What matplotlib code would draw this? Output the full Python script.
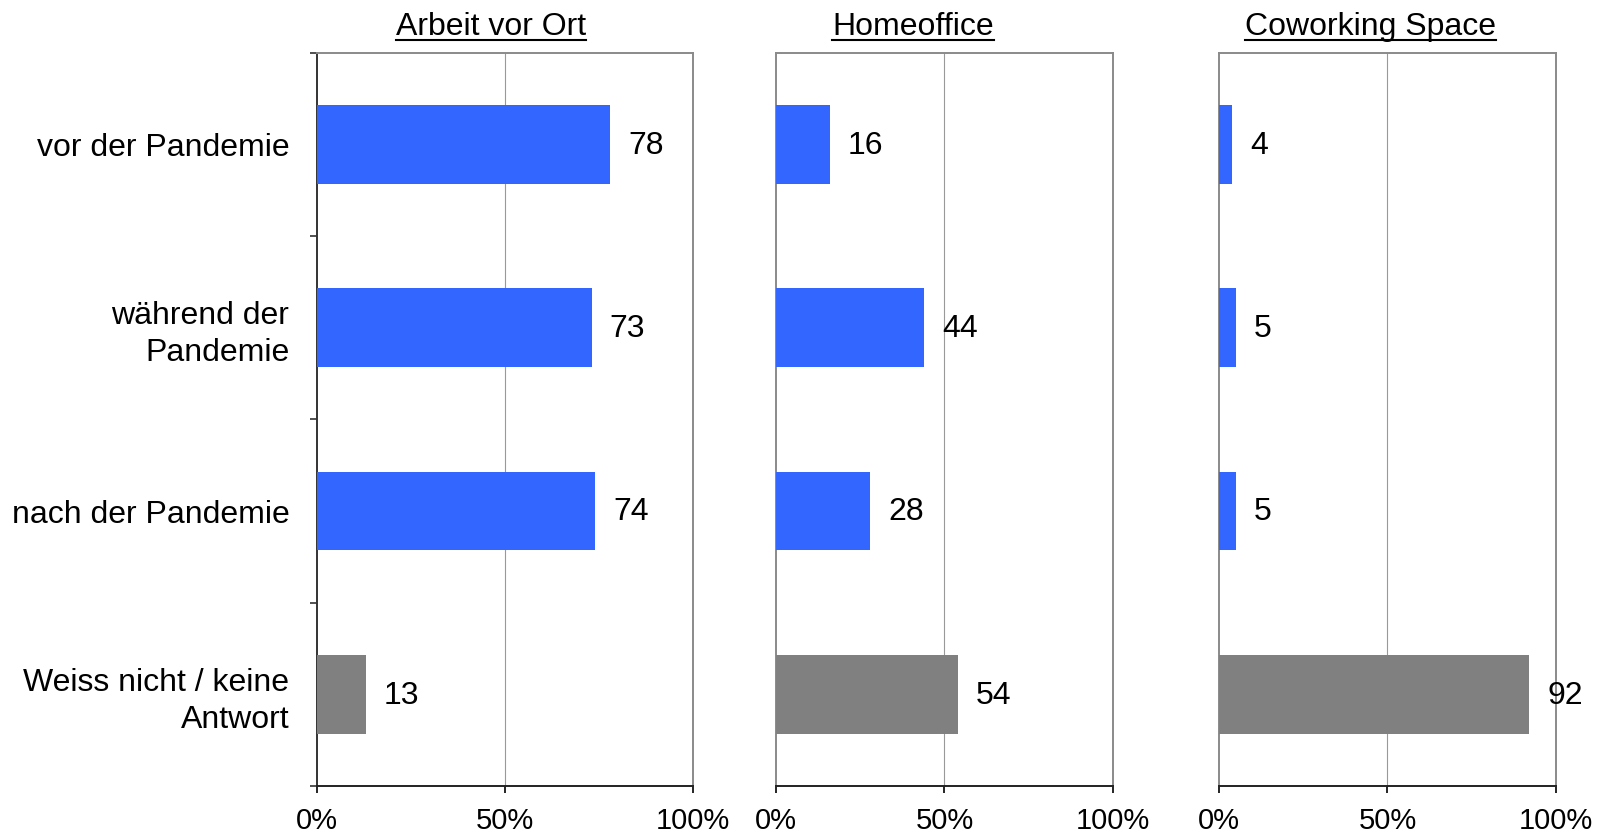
import matplotlib
matplotlib.use('Agg')
import matplotlib.pyplot as plt
import matplotlib.transforms as mtransforms
from matplotlib.lines import Line2D

plt.rcParams['font.family'] = ['Liberation Sans', 'DejaVu Sans']

# data
categories = ['vor der Pandemie', 'während der\nPandemie', 'nach der Pandemie',
              'Weiss nicht / keine\nAntwort']
panels = ['Arbeit vor Ort', 'Homeoffice', 'Coworking Space']
arbeit_vor_ort = [78, 73, 74, 13]
homeoffice = [16, 44, 28, 54]
coworking = [4, 5, 5, 92]
xticks = [0, 50, 100]
xtick_labels = ['0%', '50%', '100%']

blue = '#3366FF'
grey = '#808080'
bar_colors = [blue, blue, blue, grey]

fig = plt.figure(figsize=(15.98, 8.34), dpi=100)

# axes layout (figure fractions)
lefts = [0.1984, 0.4856, 0.7628]
widths = [0.2353, 0.2109, 0.2109]
title_x = [0.463, 0.407, 0.451]   # title centre in axes fraction
bottom, height = 0.0576, 0.879

titles = []
for i, (name, vals) in enumerate(zip(panels, [arbeit_vor_ort, homeoffice, coworking])):
    ax = fig.add_axes([lefts[i], bottom, widths[i], height])
    ypos = list(range(len(categories)))
    ax.barh(ypos, vals, height=0.43, color=bar_colors, zorder=3)
    ax.set_xlim(0, 100)
    ax.set_ylim(len(categories) - 0.5, -0.5)
    ax.axvline(50, color='#999999', lw=0.8, zorder=1)

    for y, v in zip(ypos, vals):
        ax.annotate(str(v), (v, y), xytext=(13, -1), textcoords='offset points',
                    ha='left', va='center', fontsize=23)

    ax.set_xticks(xticks)
    ax.set_xticklabels(xtick_labels, fontsize=21)
    ax.tick_params(axis='x', direction='out', length=5, width=1.2, color='black', pad=10)

    for s in ['top', 'right']:
        ax.spines[s].set_color('#8a8a8a')
        ax.spines[s].set_linewidth(1.4)
    ax.spines['bottom'].set_color('#222222')
    ax.spines['bottom'].set_linewidth(1.4)

    if i == 0:
        ax.spines['left'].set_color('#333333')
        ax.spines['left'].set_linewidth(1.4)
        ax.set_yticks([y - 0.5 for y in ypos] + [len(categories) - 0.5])
        ax.set_yticklabels([])
        ax.set_yticks(ypos, minor=True)
        ax.set_yticklabels(categories, minor=True, fontsize=23, ha='right',
                           multialignment='right', linespacing=1.3)
        ax.tick_params(axis='y', which='major', direction='out', length=5, width=1.2,
                       color='#333333')
        ax.tick_params(axis='y', which='minor', length=0, pad=20)
    else:
        ax.spines['left'].set_color('#8a8a8a')
        ax.spines['left'].set_linewidth(1.4)
        ax.set_yticks([])

    trans = mtransforms.blended_transform_factory(ax.transAxes, fig.transFigure)
    t = fig.text(title_x[i], 1 - 35 / 834, name, transform=trans, ha='center',
                 va='baseline', fontsize=23)
    titles.append(t)

# underline the titles
fig.canvas.draw()
renderer = fig.canvas.get_renderer()
W, H = fig.bbox.width, fig.bbox.height
for t in titles:
    bb = t.get_window_extent(renderer)
    yline = 1 - 39.5 / 834
    fig.add_artist(Line2D([bb.x0 / W, bb.x1 / W], [yline, yline],
                          transform=fig.transFigure, color='black', lw=1.5))

fig.savefig('out.png', dpi=100)
